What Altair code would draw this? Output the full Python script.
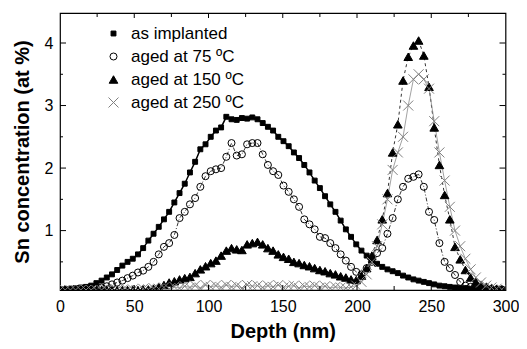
import altair as alt
import pandas as pd

series_names = ["as implanted", "aged at 75 ºC", "aged at 150 ºC", "aged at 250 ºC"]

depth = [0, 3.5, 7, 10.5, 14, 17.5, 21, 24.5, 28, 31.5,
         35, 38.5, 42, 45.5, 49, 52.5, 56, 59.5, 63, 66.5,
         70, 73.5, 77, 80.5, 84, 87.5, 91, 94.5, 98, 101.5,
         105, 108.5, 112, 115.5, 119, 122.5, 126, 129.5, 133, 136.5,
         140, 143.5, 147, 150.5, 154, 157.5, 161, 164.5, 168, 171.5,
         175, 178.5, 182, 185.5, 189, 192.5, 196, 199.5, 203, 206.5,
         210, 213.5, 217, 220.5, 224, 227.5, 231, 234.5, 238, 241.5,
         245, 248.5, 252, 255.5, 259, 262.5, 266, 269.5, 273, 276.5,
         280, 283.5, 287, 290.5, 294, 297.5]

implanted = [0.06, 0.06, 0.07, 0.08, 0.09, 0.10, 0.12, 0.16, 0.20, 0.25,
             0.30, 0.37, 0.44, 0.50, 0.55, 0.62, 0.72, 0.84, 0.95, 1.06,
             1.18, 1.30, 1.45, 1.60, 1.75, 1.93, 2.10, 2.30, 2.38, 2.50,
             2.60, 2.65, 2.82, 2.78, 2.77, 2.80, 2.79, 2.81, 2.78, 2.72,
             2.66, 2.60, 2.50, 2.43, 2.35, 2.25, 2.16, 2.05, 1.93, 1.80,
             1.68, 1.55, 1.42, 1.30, 1.16, 1.02, 0.90, 0.78, 0.68, 0.60,
             0.52, 0.47, 0.42, 0.38, 0.35, 0.32, 0.28, 0.25, 0.22, 0.20,
             0.18, 0.16, 0.14, 0.12, 0.11, 0.10, 0.09, 0.08, 0.08, 0.07,
             0.07, 0.07, 0.06, 0.06, 0.06, 0.06]

aged75 = [0.05, 0.05, 0.05, 0.05, 0.05, 0.05, 0.06, 0.07, 0.09, 0.11,
          0.14, 0.17, 0.20, 0.24, 0.28, 0.33, 0.36, 0.42, 0.50, 0.62,
          0.74, 0.80, 0.93, 1.20, 1.30, 1.42, 1.52, 1.70, 1.87, 1.95,
          1.98, 2.00, 2.18, 2.40, 2.20, 2.22, 2.38, 2.40, 2.40, 2.22,
          2.05, 1.95, 1.89, 1.72, 1.62, 1.50, 1.38, 1.18, 1.10, 1.02,
          0.90, 0.88, 0.80, 0.72, 0.62, 0.52, 0.42, 0.34, 0.30, 0.40,
          0.50, 0.64, 0.72, 0.95, 1.20, 1.50, 1.70, 1.83, 1.86, 1.90,
          1.70, 1.30, 1.17, 0.80, 0.50, 0.40, 0.29, 0.18, 0.12, 0.10,
          0.08, 0.07, 0.07, 0.06, 0.06, 0.06]

aged150 = [0.05, 0.05, 0.05, 0.05, 0.05, 0.05, 0.05, 0.05, 0.05, 0.05,
           0.05, 0.05, 0.05, 0.05, 0.05, 0.05, 0.06, 0.06, 0.07, 0.10,
           0.13, 0.17, 0.19, 0.22, 0.24, 0.26, 0.32, 0.38, 0.43, 0.48,
           0.52, 0.60, 0.68, 0.72, 0.70, 0.69, 0.78, 0.80, 0.82, 0.78,
           0.72, 0.68, 0.62, 0.58, 0.55, 0.50, 0.48, 0.45, 0.43, 0.40,
           0.37, 0.35, 0.32, 0.30, 0.27, 0.25, 0.22, 0.21, 0.28, 0.40,
           0.60, 0.85, 1.18, 1.60, 2.25, 2.70, 3.40, 3.78, 3.96, 4.04,
           3.80, 3.30, 2.65, 2.05, 1.57, 1.18, 0.74, 0.54, 0.37, 0.25,
           0.18, 0.13, 0.10, 0.08, 0.07, 0.06]

aged250 = [0.05, 0.05, 0.05, 0.05, 0.05, 0.05, 0.05, 0.05, 0.05, 0.05,
           0.05, 0.05, 0.05, 0.05, 0.06, 0.05, 0.07, 0.06, 0.08, 0.07,
           0.09, 0.07, 0.10, 0.08, 0.11, 0.09, 0.12, 0.08, 0.13, 0.10,
           0.12, 0.09, 0.13, 0.10, 0.12, 0.08, 0.13, 0.11, 0.12, 0.09,
           0.12, 0.10, 0.13, 0.09, 0.11, 0.12, 0.08, 0.11, 0.10, 0.12,
           0.09, 0.11, 0.08, 0.10, 0.09, 0.08, 0.10, 0.12, 0.18, 0.30,
           0.50, 0.75, 1.10, 1.50, 1.97, 2.25, 2.50, 3.00, 3.42, 3.50,
           3.42, 3.27, 2.75, 2.25, 1.80, 1.38, 1.00, 0.75, 0.55, 0.38,
           0.25, 0.17, 0.12, 0.09, 0.07, 0.06]

x_labels = [0, 50, 100, 150, 200, 250, 300]
y_labels = [1, 2, 3, 4]
x_ticks_major = [50, 100, 150, 200, 250]
x_ticks_minor = [25, 75, 125, 175, 225, 275]
y_ticks_major = [1, 2, 3, 4]
y_ticks_minor = [0.5, 1.5, 2.5, 3.5]

rows = []
for name, vals in zip(series_names, [implanted, aged75, aged150, aged250]):
    for d, v in zip(depth, vals):
        rows.append({"depth": d, "conc": v, "series": name})
df = pd.DataFrame(rows)

W, H = 445.5, 277
FONT = "Liberation Sans"

xscale = alt.Scale(domain=[0, 300], nice=False, zero=False)
yscale = alt.Scale(domain=[0.05, 4.48], nice=False, zero=False)

x_axis = alt.Axis(values=x_labels, title="Depth (nm)", ticks=False, domain=False,
                  grid=False, labelPadding=8, titlePadding=7, format="d",
                  labelFlush=False, labelOverlap=False)
y_axis = alt.Axis(values=y_labels, title="Sn concentration (at %)", ticks=False,
                  domain=False, grid=False, labelPadding=7, titlePadding=12, format="d",
                  labelFlush=False, labelOverlap=False)
x_enc = alt.X("depth:Q", scale=xscale, axis=x_axis)
y_enc = alt.Y("conc:Q", scale=yscale, axis=y_axis)

base = alt.Chart(df)

line_specs = [
    ("as implanted", dict(color="black", strokeWidth=1.5)),
    ("aged at 75 ºC", dict(color="black", strokeWidth=0.8, strokeDash=[4, 2, 1, 2])),
    ("aged at 150 ºC", dict(color="black", strokeWidth=0.8, strokeDash=[3, 3])),
    ("aged at 250 ºC", dict(color="#8a8a8a", strokeWidth=0.8)),
]
layers = []
for name, style in line_specs:
    layers.append(
        base.transform_filter(alt.datum.series == name)
        .mark_line(clip=True, **style)
        .encode(x=x_enc, y=y_enc)
    )

legend = alt.Legend(title=None, orient="none", legendX=45, legendY=12,
                    labelFontSize=17, labelFont=FONT, labelColor="black",
                    rowPadding=5, labelOffset=9, symbolStrokeWidth=1,
                    padding=0)

points = base.mark_point(filled=True, clip=True, strokeWidth=1, opacity=1).encode(
    x=x_enc, y=y_enc,
    shape=alt.Shape("series:N", sort=series_names,
                    scale=alt.Scale(domain=series_names,
                                    range=["square", "circle", "triangle-up",
                                           "M-1,-1L1,1M-1,1L1,-1"]),
                    legend=legend),
    fill=alt.Fill("series:N", sort=series_names,
                  scale=alt.Scale(domain=series_names,
                                  range=["black", "transparent", "black", "transparent"]),
                  legend=legend),
    stroke=alt.Stroke("series:N", sort=series_names,
                      scale=alt.Scale(domain=series_names,
                                      range=["black", "black", "black", "#808080"]),
                      legend=legend),
    size=alt.Size("series:N", sort=series_names,
                  scale=alt.Scale(domain=series_names, range=[24, 100, 45, 80]),
                  legend=legend),
)
layers.append(points)

def ytick_layer(vals, x0, x1):
    return alt.Chart(pd.DataFrame({"conc": vals})).mark_rule(color="black", strokeWidth=1).encode(
        y=y_enc, x=alt.value(x0), x2=alt.value(x1))

def xtick_layer(vals, y0, y1):
    return alt.Chart(pd.DataFrame({"depth": vals})).mark_rule(color="black", strokeWidth=1).encode(
        x=x_enc, y=alt.value(y0), y2=alt.value(y1))

layers += [
    ytick_layer(y_ticks_major, 0, 6), ytick_layer(y_ticks_minor, 0, 3),
    ytick_layer(y_ticks_major, W - 6, W), ytick_layer(y_ticks_minor, W - 3, W),
    xtick_layer(x_ticks_major, H, H - 5), xtick_layer(x_ticks_minor, H, H - 4),
    xtick_layer(x_ticks_major, 0, 5), xtick_layer(x_ticks_minor, 0, 4),
]

chart = alt.layer(*layers).properties(
    width=W, height=H,
    autosize=alt.AutoSizeParams(type="none"),
    padding={"left": 52, "top": 5, "right": 13.5, "bottom": 57},
    background="white",
).configure_view(stroke="black", strokeWidth=1.2).configure_axis(
    labelFont=FONT, labelFontSize=16, labelColor="black",
    titleFont=FONT, titleFontSize=20, titleFontWeight="bold", titleColor="black",
)

chart.save("out.html", embed_options={"renderer": "svg", "actions": False})
